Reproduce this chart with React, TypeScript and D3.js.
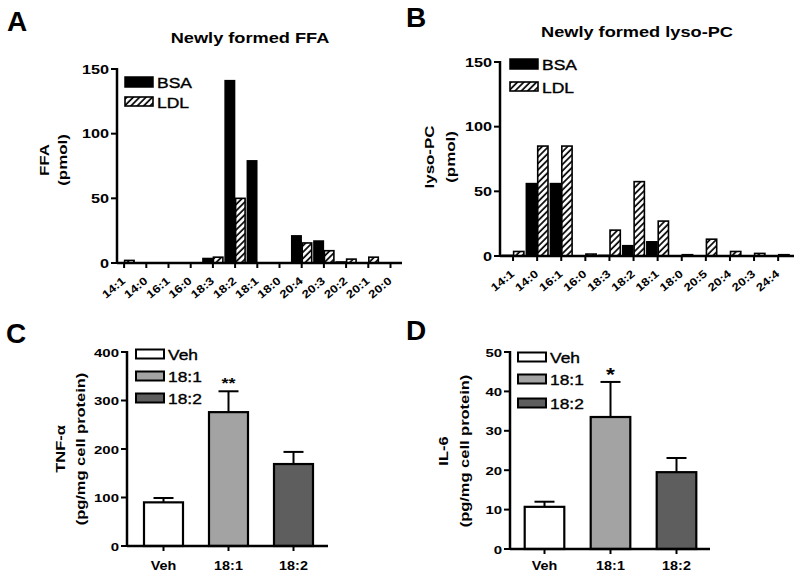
import * as d3 from "d3";

const SX = 1.3;
const FONT = "'Liberation Sans', Arial, sans-serif";

// A: newly formed FFA (pmol)
const ffaCats = ["14:1", "14:0", "16:1", "16:0", "18:3", "18:2", "18:1", "18:0", "20:4", "20:3", "20:2", "20:1", "20:0"];
const ffaBSA = [0, 0, 0, 0, 3.5, 141, 79, 0, 21, 17, 0.8, 0, 0];
const ffaLDL = [2, 0, 0, 0, 4.5, 50, 0, 0, 15.5, 9.5, 3, 4.5, 0];

// B: newly formed lyso-PC (pmol)
const lpcCats = ["14:1", "14:0", "16:1", "16:0", "18:3", "18:2", "18:1", "18:0", "20:5", "20:4", "20:3", "24:4"];
const lpcBSA = [0.5, 56, 56, 0, 0.5, 8, 11, 0, 0, 0, 0, 0];
const lpcLDL = [3.5, 85, 85, 1.5, 20, 57.5, 27, 1, 13, 3.5, 2, 1];

// C, D: cytokines
const treatments = ["Veh", "18:1", "18:2"];
const treatColors = ["#ffffff", "#a3a3a3", "#5e5e5e"];
const tnfMean = [90, 276, 169];
const tnfSem = [9, 43, 25];
const il6Mean = [10.7, 33.5, 19.5];
const il6Sem = [1.3, 8.9, 3.6];

function T({ x, y, size, bold = true, anchor = "start", rot = 0, sx = SX, children }: any) {
  return (
    <text
      transform={`translate(${x},${y})${rot ? ` rotate(${rot})` : ""} scale(${sx},1)`}
      fontSize={size}
      fontWeight={bold ? "bold" : "normal"}
      textAnchor={anchor}
      fontFamily={FONT}
      fill="#000"
      stroke={bold ? "none" : "#000"}
      strokeWidth={bold ? 0 : 0.35}
    >
      {children}
    </text>
  );
}

function Grouped(p: any) {
  const y = d3.scaleLinear().domain([0, 150]).range([p.yBot, p.yTop]);
  const x = d3
    .scaleBand()
    .domain(p.cats)
    .range([p.bandStart, p.bandStart + p.step * p.cats.length]);
  const bw = x.bandwidth();
  const sub = d3.scaleBand().domain(["BSA", "LDL"]).range([bw * 0.05, bw * 0.95]).paddingInner(0.1);
  return (
    <g>
      <T x={p.titleX} y={p.titleY} size={14} anchor="middle">{p.title}</T>
      <T x={p.yLabX} y={p.yLabY} size={13.5} anchor="middle" rot={-90} sx={1.25}>{p.yLab}</T>
      <T x={p.yUnitX} y={p.yLabY} size={13.5} anchor="middle" rot={-90} sx={1.25}>(pmol)</T>
      {p.cats.map((c: string, i: number) => (
        <g key={c}>
          {p.bsa[i] > 0 && (
            <rect x={x(c)! + sub("BSA")!} y={y(p.bsa[i])} width={sub.bandwidth()} height={y(0) - y(p.bsa[i])}
              fill="#000" stroke="#000" strokeWidth={1.5} />
          )}
          {p.ldl[i] > 0 && (
            <rect x={x(c)! + sub("LDL")!} y={y(p.ldl[i])} width={sub.bandwidth()} height={y(0) - y(p.ldl[i])}
              fill="url(#hatch)" stroke="#000" strokeWidth={1.6} />
          )}
        </g>
      ))}
      {/* axes */}
      <line x1={p.axisX} x2={p.axisX} y1={p.yTop - 1} y2={p.yBot + 1} stroke="#000" strokeWidth={2.5} />
      <line x1={p.axisX} x2={p.axisEnd} y1={p.yBot} y2={p.yBot} stroke="#000" strokeWidth={2.5} />
      {y.ticks(3).map((t) => (
        <g key={t}>
          <line x1={p.axisX - 6} x2={p.axisX} y1={y(t)} y2={y(t)} stroke="#000" strokeWidth={2} />
          <T x={p.axisX - 8} y={y(t) + 4.5} size={12.5} anchor="end">{t}</T>
        </g>
      ))}
      {p.cats.map((c: string) => {
        const cx = x(c)! + bw / 2;
        return (
          <g key={c}>
            <line x1={cx} x2={cx} y1={p.yBot} y2={p.yBot + 5} stroke="#000" strokeWidth={2} />
            <T x={cx + 2} y={p.yBot + 19} size={11} anchor="end" rot={-40} sx={1.2}>{c}</T>
          </g>
        );
      })}
      {/* legend */}
      <rect x={p.legX} y={p.legY[0]} width={28} height={10} fill="#000" stroke="#000" strokeWidth={1.5} />
      <T x={p.legX + 32} y={p.legY[0] + 10.5} size={14} bold={false} sx={1.25}>BSA</T>
      <rect x={p.legX} y={p.legY[1]} width={28} height={9} fill="url(#hatch)" stroke="#000" strokeWidth={1.6} />
      <T x={p.legX + 32} y={p.legY[1] + 10.5} size={14} bold={false} sx={1.25}>LDL</T>
    </g>
  );
}

function Cyto(p: any) {
  const y = d3.scaleLinear().domain([0, p.max]).range([p.yBot, p.yTop]);
  const x = d3.scaleBand().domain(treatments).range([p.bandStart, p.bandEnd]).paddingInner(0.4).paddingOuter(0.2);
  const bw = x.bandwidth();
  return (
    <g>
      <T x={p.yLabX} y={p.yLabY} size={13.5} anchor="middle" rot={-90} sx={1.22}>{p.yLab}</T>
      <T x={p.yUnitX} y={p.yLabY} size={13.5} anchor="middle" rot={-90} sx={1.22}>(pg/mg cell protein)</T>
      {treatments.map((c, i) => {
        const cx = x(c)! + bw / 2;
        const top = y(p.mean[i] + p.sem[i]);
        return (
          <g key={c}>
            <line x1={cx} x2={cx} y1={y(p.mean[i])} y2={top} stroke="#000" strokeWidth={2} />
            <line x1={cx - 10} x2={cx + 10} y1={top} y2={top} stroke="#000" strokeWidth={2} />
            <rect x={x(c)} y={y(p.mean[i])} width={bw} height={y(0) - y(p.mean[i])}
              fill={treatColors[i]} stroke="#000" strokeWidth={2.2} />
            <line x1={cx} x2={cx} y1={p.yBot} y2={p.yBot + 5} stroke="#000" strokeWidth={2} />
            <T x={cx} y={570} size={12.5} anchor="middle" sx={1.15}>{c}</T>
          </g>
        );
      })}
      <T x={x("18:1")! + bw / 2} y={p.starY} size={p.starSize} anchor="middle" sx={1.2}>{p.star}</T>
      <line x1={p.axisX} x2={p.axisX} y1={p.yTop - 1} y2={p.yBot + 1} stroke="#000" strokeWidth={2.5} />
      <line x1={p.axisX} x2={p.axisEnd} y1={p.yBot} y2={p.yBot} stroke="#000" strokeWidth={2.5} />
      {y.ticks(p.nTicks).map((t) => (
        <g key={t}>
          <line x1={p.axisX - 6} x2={p.axisX} y1={y(t)} y2={y(t)} stroke="#000" strokeWidth={2} />
          <T x={p.axisX - 8} y={y(t) + 4.5} size={11.5} anchor="end">{t}</T>
        </g>
      ))}
      {treatments.map((c, i) => (
        <g key={c}>
          <rect x={p.legX} y={p.legY[i] - 4.5} width={28} height={9} fill={treatColors[i]} stroke="#000" strokeWidth={2} />
          <T x={p.legX + 32} y={p.legY[i] + 5.5} size={14.5} bold={false} sx={1.2}>{c}</T>
        </g>
      ))}
    </g>
  );
}

export default function App() {
  return (
    <div style={{ position: "absolute", left: 0, top: 0 }}>
      <svg width={800} height={578} style={{ display: "block", background: "#fff" }}>
        <defs>
          <pattern id="hatch" width={4.5} height={4.5} patternUnits="userSpaceOnUse" patternTransform="rotate(45)">
            <rect width={4.5} height={4.5} fill="#fff" />
            <line x1={1} x2={1} y1={0} y2={4.5} stroke="#000" strokeWidth={1.7} />
          </pattern>
        </defs>
        <T x={7} y={31} size={28} sx={1}>A</T>
        <T x={406} y={27} size={28} sx={1}>B</T>
        <T x={6} y={343} size={28} sx={1}>C</T>
        <T x={406} y={340} size={28} sx={1}>D</T>

        <Grouped
          cats={ffaCats} bsa={ffaBSA} ldl={ffaLDL}
          axisX={117} bandStart={113} step={22.2} axisEnd={402}
          yTop={69} yBot={263}
          title="Newly formed FFA" titleX={250} titleY={43}
          yLab="FFA" yLabX={49} yUnitX={67} yLabY={160}
          legX={125} legY={[77, 97]}
        />
        <Grouped
          cats={lpcCats} bsa={lpcBSA} ldl={lpcLDL}
          axisX={500} bandStart={501} step={24.1} axisEnd={794}
          yTop={62} yBot={256}
          title="Newly formed lyso-PC" titleX={637} titleY={37}
          yLab="lyso-PC" yLabX={434} yUnitX={455} yLabY={157}
          legX={510} legY={[59, 82]}
        />
        <Cyto
          mean={tnfMean} sem={tnfSem} max={400} nTicks={4}
          axisX={127} bandStart={131} bandEnd={326} axisEnd={328}
          yTop={352} yBot={546}
          yLab="TNF-α" yLabX={65} yUnitX={85} yLabY={449}
          legX={136} legY={[354, 376, 398]}
          star="**" starSize={15} starY={388}
        />
        <Cyto
          mean={il6Mean} sem={il6Sem} max={50} nTicks={5}
          axisX={510} bandStart={511.5} bandEnd={709.5} axisEnd={710}
          yTop={352} yBot={549}
          yLab="IL-6" yLabX={448} yUnitX={469} yLabY={451}
          legX={518} legY={[357, 379, 403]}
          star="*" starSize={19} starY={381}
        />
      </svg>
    </div>
  );
}
